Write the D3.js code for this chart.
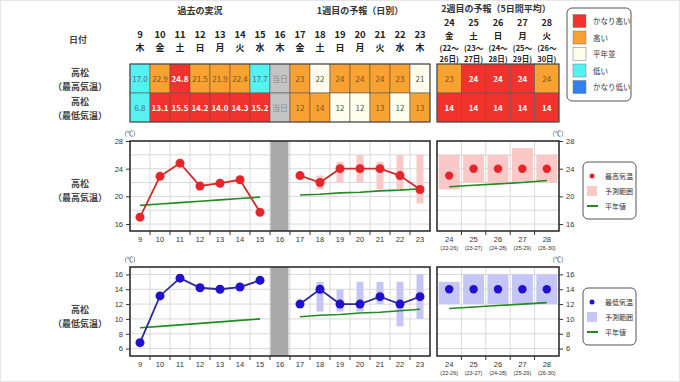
<!DOCTYPE html>
<html><head><meta charset="utf-8">
<script src="https://cdn.jsdelivr.net/npm/d3@7"></script>
<style>
body{margin:0;background:#fff;}
svg{font-family:"Noto Sans CJK JP","Noto Sans",sans-serif;}
</style></head>
<body><svg id="c" width="680" height="382"></svg>
<script>
// ---------- data ----------
const days = [9,10,11,12,13,14,15,16,17,18,19,20,21,22,23];
const weekdays = ["木","金","土","日","月","火","水","木","金","土","日","月","火","水","木"];
const pastDays = [9,10,11,12,13,14,15];
const pastMax = [17.0,22.9,24.8,21.5,21.9,22.4,17.7];
const pastMin = [6.8,13.1,15.5,14.2,14.0,14.3,15.2];
const pastMaxCls = ["lo","hi","vhi","hi","hi","hi","lo"];
const pastMinCls = ["lo","vhi","vhi","vhi","vhi","vhi","vhi"];
const todayDay = 16;
const w1Days = [17,18,19,20,21,22,23];
const w1Max = [23,22,24,24,24,23,21];
const w1Min = [12,14,12,12,13,12,13];
const w1MaxCls = ["hi","nm","hi","hi","hi","hi","nm"];
const w1MinCls = ["hi","hi","nm","nm","hi","nm","hi"];
const w1MaxLo = [null,21,22,22,21,21,19];
const w1MaxHi = [null,23,25,26,25,26,26];
const w1MinLo = [null,11,11,11,12,9,10];
const w1MinHi = [null,15,14,15,15,15,16];
const w2Days = [24,25,26,27,28];
const w2Weekdays = ["金","土","日","月","火"];
const w2Start = [22,23,24,25,26];
const w2End = [26,27,28,29,30];
const w2Max = [23,24,24,24,24];
const w2Min = [14,14,14,14,14];
const w2MaxCls = ["hi","vhi","vhi","vhi","hi"];
const w2MinCls = ["vhi","vhi","vhi","vhi","vhi"];
const w2MaxLo = [21,22,22,22,22];
const w2MaxHi = [26,26,26,27,26];
const w2MinLo = [12,12,12,12,12];
const w2MinHi = [15,16,16,16,16];
const pastNormMax = [18.7,18.9,19.1,19.3,19.5,19.7,19.9];
const w1NormMax = [20.2,20.3,20.5,20.6,20.8,20.9,21.1];
const w2NormMax = [21.4,21.6,21.8,22.0,22.3];
const pastNormMin = [8.8,9.0,9.2,9.4,9.6,9.8,10.0];
const w1NormMin = [10.3,10.5,10.6,10.8,10.9,11.1,11.3];
const w2NormMin = [11.4,11.6,11.8,12.0,12.2];
const clsNames = ["vhi","hi","nm","lo","vlo"];
const clsLabels = ["かなり高い","高い","平年並","低い","かなり低い"];
const clsColors = ["#f2322c","#f8a232","#fefcea","#55f2f2","#3182ee"];
const clsText = {vhi:"#ffffff",hi:"#7a5418",nm:"#555555",lo:"#4a6e80",vlo:"#ffffff"};

// ---------- setup ----------
const svg = d3.select("#c");
const cfill = d3.scaleOrdinal().domain(clsNames).range(clsColors);
const x1 = d3.scaleBand().domain(days).range([130,430]);
const x2 = d3.scaleBand().domain(w2Days).range([437,559]);
const c1 = d => x1(d) + x1.bandwidth()/2;
const c2 = d => x2(d) + x2.bandwidth()/2;

svg.append("rect").attr("x",0.5).attr("y",0.5).attr("width",679).attr("height",381)
  .attr("fill","#fff").attr("stroke","#e6e6e6");

// headers
const hdr = [["過去の実況",200,14],["1週目の予報（日別）",360,14],["2週目の予報（5日間平均）",496,12]];
hdr.forEach(h=>svg.append("text").attr("x",h[1]).attr("y",h[2]).attr("text-anchor","middle")
  .attr("font-size",9).attr("font-weight","bold").attr("fill","#333").text(h[0]));

// left labels
function leftLabel(y, sub){
  svg.append("text").attr("x",80).attr("y",y).attr("text-anchor","middle").attr("font-size",9)
    .attr("font-weight","bold").attr("fill","#444").text("高松");
  svg.append("text").attr("x",80).attr("y",y+14).attr("text-anchor","middle").attr("font-size",9)
    .attr("font-weight","bold").attr("fill","#444").text(sub);
}
svg.append("text").attr("x",78).attr("y",43).attr("text-anchor","middle").attr("font-size",9)
  .attr("font-weight","bold").attr("fill","#444").text("日付");
leftLabel(76,"（最高気温）");
leftLabel(105,"（最低気温）");
leftLabel(187,"（最高気温）");
leftLabel(313,"（最低気温）");

// date row
days.forEach((d,i)=>{
  svg.append("text").attr("x",c1(d)).attr("y",38).attr("text-anchor","middle").attr("font-size",9.5)
    .attr("font-weight","bold").attr("fill","#222").text(d);
  svg.append("text").attr("x",c1(d)).attr("y",51).attr("text-anchor","middle").attr("font-size",9)
    .attr("font-weight","bold").attr("fill","#222").text(weekdays[i]);
});
w2Days.forEach((d,i)=>{
  const g = svg.append("g").attr("text-anchor","middle").attr("fill","#222");
  g.append("text").attr("x",c2(d)).attr("y",26).attr("font-size",9).attr("font-weight","bold").text(d);
  g.append("text").attr("x",c2(d)).attr("y",38.5).attr("font-size",8.5).attr("font-weight","bold").text(w2Weekdays[i]);
  g.append("text").attr("x",c2(d)).attr("y",51).attr("font-size",7.5).attr("font-weight","bold").text("("+w2Start[i]+"〜");
  g.append("text").attr("x",c2(d)).attr("y",62).attr("font-size",7.5).attr("font-weight","bold").text(w2End[i]+"日)");
});

// tables
const rowY = [64,93], rowH = 29;
function cell(x,w,y,cls,txt,bold){
  svg.append("rect").attr("x",x).attr("y",y).attr("width",w).attr("height",rowH)
    .attr("fill",cls==="today"?"#c4c4c4":cfill(cls)).attr("stroke","#5a5a5a").attr("stroke-width",0.6);
  svg.append("text").attr("x",x+w/2).attr("y",y+rowH/2+3.2).attr("text-anchor","middle")
    .attr("font-size",8).attr("font-weight",bold?"bold":"normal")
    .attr("fill",cls==="today"?"#888":clsText[cls]).text(txt);
}
pastDays.forEach((d,i)=>{
  cell(x1(d),x1.bandwidth(),rowY[0],pastMaxCls[i],pastMax[i].toFixed(1),pastMaxCls[i]==="vhi");
  cell(x1(d),x1.bandwidth(),rowY[1],pastMinCls[i],pastMin[i].toFixed(1),pastMinCls[i]==="vhi");
});
cell(x1(todayDay),x1.bandwidth(),rowY[0],"today","当日");
cell(x1(todayDay),x1.bandwidth(),rowY[1],"today","当日");
w1Days.forEach((d,i)=>{
  cell(x1(d),x1.bandwidth(),rowY[0],w1MaxCls[i],w1Max[i],w1MaxCls[i]==="vhi");
  cell(x1(d),x1.bandwidth(),rowY[1],w1MinCls[i],w1Min[i],w1MinCls[i]==="vhi");
});
w2Days.forEach((d,i)=>{
  cell(x2(d),x2.bandwidth(),rowY[0],w2MaxCls[i],w2Max[i],w2MaxCls[i]==="vhi");
  cell(x2(d),x2.bandwidth(),rowY[1],w2MinCls[i],w2Min[i],w2MinCls[i]==="vhi");
});
svg.append("rect").attr("x",130).attr("y",64).attr("width",300).attr("height",58).attr("fill","none").attr("stroke","#444").attr("stroke-width",1);
svg.append("rect").attr("x",437).attr("y",64).attr("width",122).attr("height",58).attr("fill","none").attr("stroke","#444").attr("stroke-width",1);

// top legend
svg.append("rect").attr("x",567).attr("y",8).attr("width",64).attr("height",93).attr("rx",5)
  .attr("fill","#fff").attr("stroke","#555").attr("stroke-width",1);
clsNames.forEach((c,i)=>{
  const y = 21 + i*16.5;
  svg.append("rect").attr("x",573).attr("y",y-6.5).attr("width",13).attr("height",13)
    .attr("fill",cfill(c)).attr("stroke","#777").attr("stroke-width",0.5);
  svg.append("text").attr("x",593).attr("y",y+3).attr("font-size",7.5).attr("fill","#333").text(clsLabels[i]);
});

// ---------- charts ----------
function chart(o){
  const y = d3.scaleLinear().domain(o.domain).range([o.bottom,o.top]);
  const panels = [[130,430],[437,559]];
  o.grid.forEach(v=>{
    panels.forEach(p=>svg.append("line").attr("x1",p[0]).attr("x2",p[1]).attr("y1",y(v)).attr("y2",y(v))
      .attr("stroke","#cfcfcf").attr("stroke-width",0.8));
  });
  days.slice(1).forEach(d=>{
    svg.append("line").attr("x1",x1(d)).attr("x2",x1(d)).attr("y1",o.top).attr("y2",o.bottom)
      .attr("stroke","#cfcfcf").attr("stroke-width",0.8);
  });
  w2Days.slice(1).forEach(d=>{
    svg.append("line").attr("x1",x2(d)).attr("x2",x2(d)).attr("y1",o.top).attr("y2",o.bottom)
      .attr("stroke","#cfcfcf").attr("stroke-width",0.8);
  });
  svg.append("rect").attr("x",x1(todayDay)+0.5).attr("y",o.top).attr("width",x1.bandwidth()-2)
    .attr("height",o.bottom-o.top).attr("fill","#a9a9a9");
  w1Days.forEach((d,i)=>{
    if(o.w1Lo[i]==null) return;
    svg.append("rect").attr("x",c1(d)-3.5).attr("width",7).attr("y",y(o.w1Hi[i]))
      .attr("height",y(o.w1Lo[i])-y(o.w1Hi[i])).attr("fill",o.rangeColor);
  });
  w2Days.forEach((d,i)=>{
    svg.append("rect").attr("x",c2(d)-10.5).attr("width",21).attr("y",y(o.w2Hi[i]))
      .attr("height",y(o.w2Lo[i])-y(o.w2Hi[i])).attr("fill",o.rangeColor);
  });
  const ln = d3.line().x(d=>d[0]).y(d=>y(d[1]));
  [pastDays.map((d,i)=>[c1(d),o.pastNorm[i]]), w1Days.map((d,i)=>[c1(d),o.w1Norm[i]]),
   w2Days.map((d,i)=>[c2(d),o.w2Norm[i]])].forEach(s=>{
    svg.append("path").attr("d",ln(s)).attr("fill","none").attr("stroke","#228b22").attr("stroke-width",1.6);
  });
  [pastDays.map((d,i)=>[c1(d),o.past[i]]), w1Days.map((d,i)=>[c1(d),o.w1[i]])].forEach(s=>{
    svg.append("path").attr("d",ln(s)).attr("fill","none").attr("stroke",o.lineColor).attr("stroke-width",1.8);
    s.forEach(p=>svg.append("circle").attr("cx",p[0]).attr("cy",y(p[1])).attr("r",4.5).attr("fill",o.dotColor));
  });
  w2Days.forEach((d,i)=>svg.append("circle").attr("cx",c2(d)).attr("cy",y(o.w2[i])).attr("r",4.2).attr("fill",o.dotColor));
  panels.forEach(p=>svg.append("rect").attr("x",p[0]).attr("y",o.top).attr("width",p[1]-p[0])
    .attr("height",o.bottom-o.top).attr("fill","none").attr("stroke","#222").attr("stroke-width",1.5));
  const la = svg.append("g").attr("transform","translate(130,0)")
    .call(d3.axisLeft(y).tickValues(o.ticks).tickSize(4).tickPadding(3));
  const ra = svg.append("g").attr("transform","translate(559,0)")
    .call(d3.axisRight(y).tickValues(o.ticks).tickSize(4).tickPadding(3));
  [la,ra].forEach(a=>{a.select(".domain").remove();
    a.selectAll("text").attr("font-size",7.5).attr("fill","#333").attr("font-family","Liberation Sans, Arial, sans-serif");
    a.selectAll("line").attr("stroke","#333");});
  days.slice(1).forEach(d=>svg.append("line").attr("x1",x1(d)).attr("x2",x1(d)).attr("y1",o.bottom).attr("y2",o.bottom+4).attr("stroke","#333"));
  w2Days.slice(1).forEach(d=>svg.append("line").attr("x1",x2(d)).attr("x2",x2(d)).attr("y1",o.bottom).attr("y2",o.bottom+4).attr("stroke","#333"));
  days.forEach(d=>svg.append("text").attr("x",c1(d)).attr("y",o.bottom+11).attr("text-anchor","middle")
    .attr("font-size",7.5).attr("fill","#333").attr("font-family","Liberation Sans, Arial, sans-serif").text(d));
  w2Days.forEach((d,i)=>{
    svg.append("text").attr("x",c2(d)).attr("y",o.bottom+11).attr("text-anchor","middle")
      .attr("font-size",7.5).attr("fill","#333").attr("font-family","Liberation Sans, Arial, sans-serif").text(d);
    svg.append("text").attr("x",c2(d)).attr("y",o.bottom+19).attr("text-anchor","middle")
      .attr("font-size",5.5).attr("fill","#333").attr("font-family","Liberation Sans, Arial, sans-serif")
      .text("("+w2Start[i]+"-"+w2End[i]+")");
  });
  [130,558].forEach(xx=>svg.append("text").attr("x",xx).attr("y",o.top-5).attr("text-anchor","middle")
    .attr("font-size",6.5).attr("fill","#333").text("(℃)"));
  const lg = svg.append("g");
  lg.append("rect").attr("x",583).attr("y",o.legY).attr("width",53).attr("height",57).attr("rx",5)
    .attr("fill","#fff").attr("stroke","#555").attr("stroke-width",1);
  lg.append("circle").attr("cx",592).attr("cy",o.legY+14).attr("r",2.5).attr("fill",o.dotColor);
  lg.append("rect").attr("x",587).attr("y",o.legY+24).attr("width",10).attr("height",10).attr("fill",o.rangeColor);
  lg.append("line").attr("x1",587).attr("x2",598).attr("y1",o.legY+44).attr("y2",o.legY+44).attr("stroke","#228b22").attr("stroke-width",2);
  [o.legLabel,"予測範囲","平年値"].forEach((t,i)=>lg.append("text").attr("x",605).attr("y",o.legY+17+i*15)
    .attr("font-size",7).attr("fill","#333").text(t));
}

chart({domain:[15,28], top:141, bottom:231, grid:[16,18,20,22,24,26], ticks:[16,20,24,28],
  past:pastMax, w1:w1Max, w2:w2Max, w1Lo:w1MaxLo, w1Hi:w1MaxHi, w2Lo:w2MaxLo, w2Hi:w2MaxHi,
  pastNorm:pastNormMax, w1Norm:w1NormMax, w2Norm:w2NormMax,
  dotColor:"#e8242a", lineColor:"#c9302c", rangeColor:"#fbc8c8", legY:162, legLabel:"最高気温"});
chart({domain:[5,17], top:267, bottom:356, grid:[6,8,10,12,14,16], ticks:[6,8,10,12,14,16],
  past:pastMin, w1:w1Min, w2:w2Min, w1Lo:w1MinLo, w1Hi:w1MinHi, w2Lo:w2MinLo, w2Hi:w2MinHi,
  pastNorm:pastNormMin, w1Norm:w1NormMin, w2Norm:w2NormMin,
  dotColor:"#2010d0", lineColor:"#2e2a9a", rangeColor:"#c6c6f6", legY:288, legLabel:"最低気温"});
</script></body></html>
